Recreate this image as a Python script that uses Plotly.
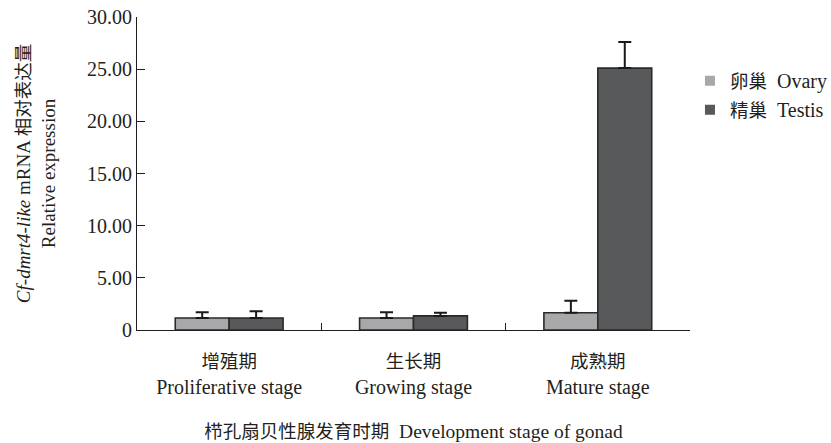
import plotly.graph_objects as go

# Gonad development stages (Chinese / English)
stages_cn = ["增殖期", "生长期", "成熟期"]
stages_en = ["Proliferative stage", "Growing stage", "Mature stage"]

# Relative expression of Cf-dmrt4-like mRNA (mean and SD)
ovary_mean = [1.15, 1.15, 1.65]
ovary_sd = [0.55, 0.55, 1.15]
testis_mean = [1.15, 1.35, 25.1]
testis_sd = [0.65, 0.30, 2.5]

series_cn = ["卵巢", "精巢"]
series_en = ["Ovary", "Testis"]
series_colors = ["#a7a8aa", "#58595b"]

y_tickvals = [0, 5, 10, 15, 20, 25, 30]
y_ticktext = ["0", "5.00", "10.00", "15.00", "20.00", "25.00", "30.00"]

LATIN = "Times New Roman, Liberation Serif, serif"
INK = "#231f20"


def cn(text):
    return f"<span style='font-family:Noto Sans CJK SC;font-size:18.5px'>{text}</span>"


categories = [f"{cn(c)}<br>{e}" for c, e in zip(stages_cn, stages_en)]

fig = go.Figure()
for mean, sd, color in zip([ovary_mean, testis_mean], [ovary_sd, testis_sd],
                           series_colors):
    fig.add_trace(go.Bar(
        x=categories, y=mean, showlegend=False,
        marker=dict(color=color, line=dict(color="#2a2a2a", width=1.6)),
        error_y=dict(type="data", symmetric=False, array=sd,
                     arrayminus=[0] * len(sd), color="#1a1a1a",
                     thickness=2, width=6.5),
    ))

# Legend entries: plain filled squares
for name_cn, name_en, color in zip(series_cn, series_en, series_colors):
    fig.add_trace(go.Scatter(
        x=[None], y=[None], mode="markers", name=f"{cn(name_cn)}  {name_en}",
        marker=dict(symbol="square", size=10, color=color, line=dict(width=0)),
    ))

fig.update_layout(
    width=831, height=443,
    margin=dict(l=137, r=128, t=17, b=113),
    paper_bgcolor="white", plot_bgcolor="white",
    barmode="group", bargap=0.415, bargroupgap=0,
    font=dict(family=LATIN, size=20, color=INK),
    showlegend=True,
    legend=dict(xref="container", yref="container", x=0.8303, xanchor="left",
                y=0.862, yanchor="top",
                font=dict(size=20, family=LATIN), bgcolor="rgba(0,0,0,0)",
                itemwidth=30, tracegroupgap=0),
    xaxis=dict(
        automargin=False,
        showline=True, linecolor=INK, linewidth=1.2,
        ticks="inside", tickson="boundaries", ticklen=7, tickcolor=INK,
        tickwidth=1.2, showgrid=False, zeroline=False,
        tickfont=dict(size=20), ticklabelstandoff=13,
        title=dict(text=f"{cn('栉孔扇贝性腺发育时期')}  Development stage of gonad",
                   font=dict(size=19.5), standoff=27),
    ),
    yaxis=dict(
        automargin=False,
        range=[0, 30], tickvals=y_tickvals, ticktext=y_ticktext,
        showline=True, linecolor=INK, linewidth=1.2,
        ticks="inside", ticklen=8, tickcolor=INK, tickwidth=1.2,
        showgrid=False, zeroline=False, tickfont=dict(size=20),
        title=dict(text=f"<i>Cf-dmrt4-like</i> mRNA {cn('相对表达量')}<br>Relative expression",
                   font=dict(size=19), standoff=26),
    ),
)

fig.write_html("out.html")
